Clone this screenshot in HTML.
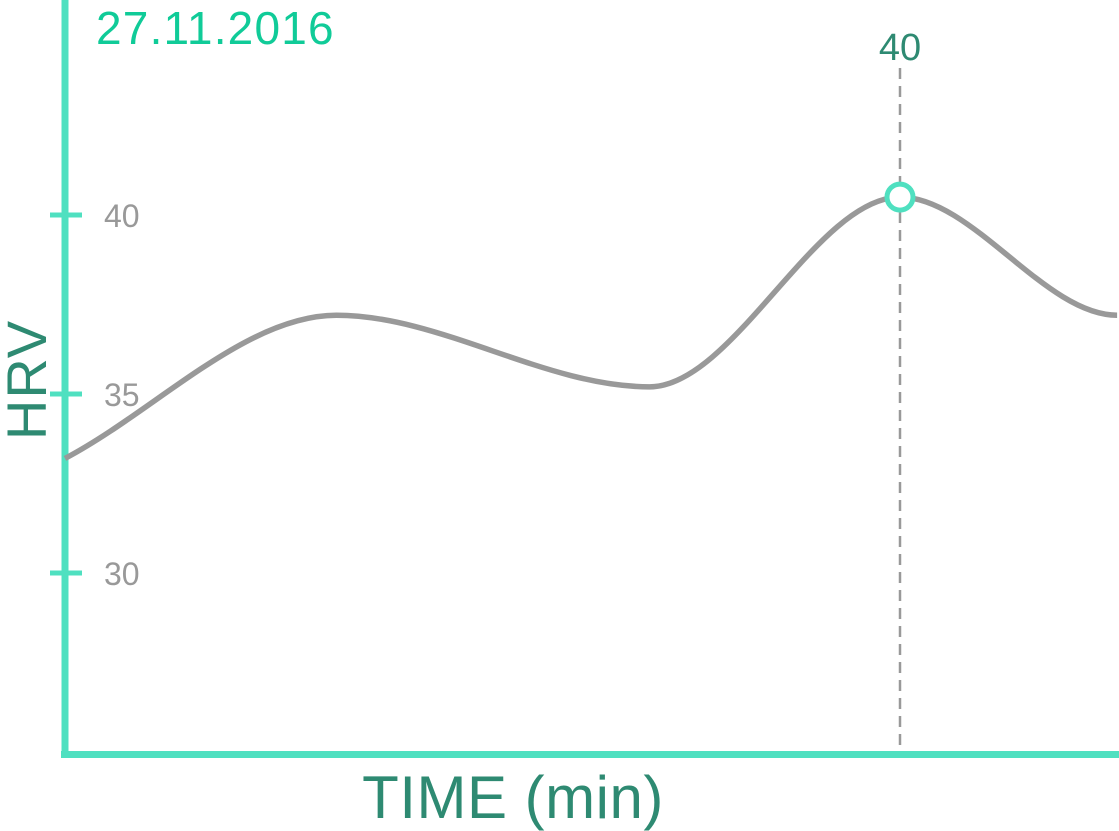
<!DOCTYPE html>
<html><head><meta charset="utf-8"><style>
html,body{margin:0;padding:0;background:#fff;}
svg{display:block;font-family:"Liberation Sans",sans-serif;}
</style></head><body>
<svg id="chart" width="1119" height="831" viewBox="0 0 1119 831">
<text x="96" y="44" font-size="46" letter-spacing="1.2" fill="#10cb98">27.11.2016</text>
<text x="513" y="818" font-size="60" letter-spacing="0.5" fill="#2e8a72" text-anchor="middle">TIME (min)</text>
<text transform="translate(46,380) rotate(-90)" font-size="56" letter-spacing="1" fill="#2e8a72" text-anchor="middle">HRV</text>
<g id="axes"></g>
<g id="marks"></g>
</svg>
<script>
const times = [0, 13, 28, 40, 50.4];
const hrv = [33.2, 37.2, 35.2, 40.5, 37.2];
const yTicks = [30, 35, 40];
const highlightTime = 40;
const highlightLabel = "40";

const NS = "http://www.w3.org/2000/svg";
const xS = t => 65 + (t - 0) / 40 * 835;
const yS = v => 215 + (40 - v) * 35.8;
function mk(tag, attrs, parent){const e=document.createElementNS(NS,tag);for(const k in attrs)e.setAttribute(k,attrs[k]);parent.appendChild(e);return e;}
const axes=document.getElementById('axes'), marks=document.getElementById('marks');

let a=mk('line',{x1:65,y1:0,x2:65,y2:758,stroke:'#4fe0c0','stroke-width':7},axes);


a=mk('line',{x1:61,y1:754.5,x2:1119,y2:754.5,stroke:'#4fe0c0','stroke-width':7},axes);


yTicks.forEach(v=>{
  const t=mk('line',{x1:50,y1:yS(v),x2:82,y2:yS(v),stroke:'#4fe0c0','stroke-width':5},axes);
  
  
  const l=mk('text',{x:104,y:yS(v)+12,'font-size':32,fill:'#999'},axes);
  l.textContent=v;
  
  
});

const pts=times.map((t,i)=>[xS(t),yS(hrv[i])]);
let d='M'+pts[0][0]+','+pts[0][1];
for(let i=0;i<pts.length-1;i++){
  const p0=pts[i-1]||pts[i],p1=pts[i],p2=pts[i+1],p3=pts[i+2]||p2;
  const k=(p2[0]-p1[0])/3;
  let m1=(p2[1]-p0[1])/(p2[0]-p0[0]||1), m2=(p3[1]-p1[1])/(p3[0]-p1[0]||1);
  if(i>0 && (p1[1]-p0[1])*(p2[1]-p1[1])<=0) m1=0;
  if(i<pts.length-2 && (p2[1]-p1[1])*(p3[1]-p2[1])<=0) m2=0;
  if(i===pts.length-2) m2=0;
  d+=` C${p1[0]+k},${p1[1]+m1*k} ${p2[0]-k},${p2[1]-m2*k} ${p2[0]},${p2[1]}`;
}
const hx=xS(highlightTime), hy=yS(hrv[times.indexOf(highlightTime)]);
let dl=mk('line',{x1:hx,y1:68,x2:hx,y2:751,stroke:'#999','stroke-width':2.5,'stroke-dasharray':'11,7'},marks);


let ln=mk('path',{d:d,fill:'none',stroke:'#999','stroke-width':5.5},marks);


let c=mk('circle',{cx:hx,cy:hy,r:13,fill:'#fff',stroke:'#4fe0c0','stroke-width':5},marks);


let hl=mk('text',{x:hx,y:60,'font-size':38,fill:'#2e8a72','text-anchor':'middle'},marks);
hl.textContent=highlightLabel;


</script>
</body></html>
